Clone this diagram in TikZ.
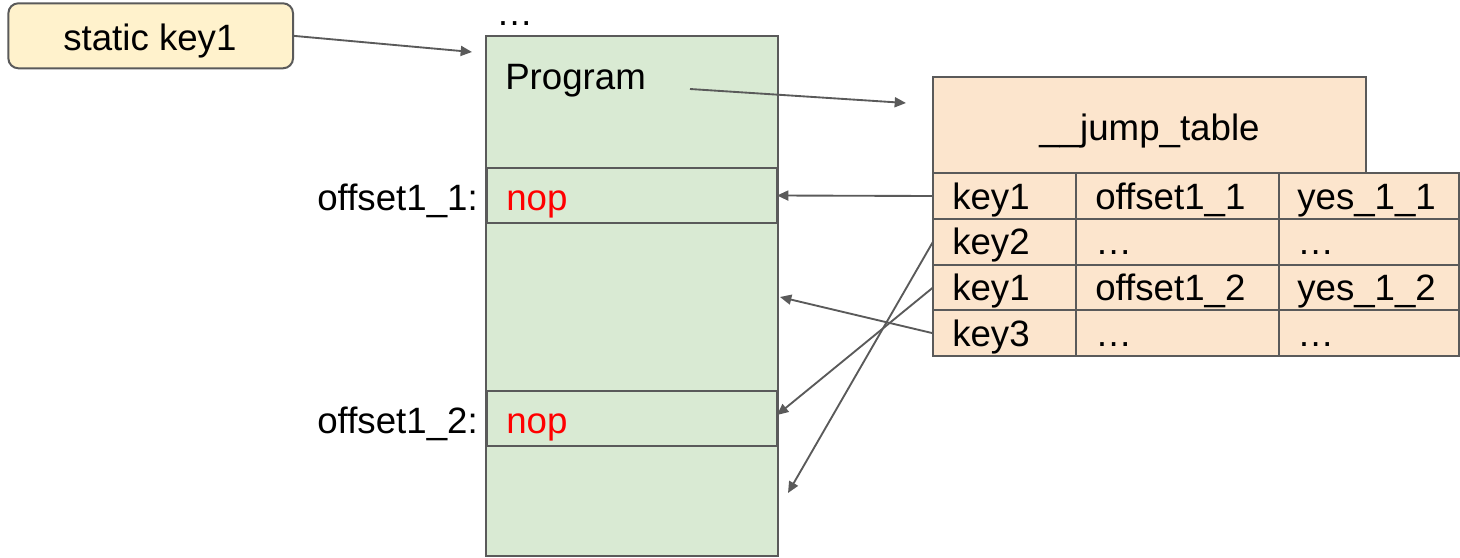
\documentclass[tikz,border=0pt]{standalone}
\usepackage{fontspec}
\setmainfont{Liberation Sans}
\usetikzlibrary{arrows.meta}
\definecolor{progfill}{HTML}{D9EAD3}
\definecolor{tablefill}{HTML}{FCE5CD}
\definecolor{keyfill}{HTML}{FFF2CC}
\definecolor{edge}{HTML}{5A5A5A}
\definecolor{nopred}{HTML}{FF0000}

\begin{document}
\begin{tikzpicture}[x=0.75pt,y=-0.75pt,
  box/.style={draw=edge,line width=1.5pt,inner sep=0pt,outer sep=0pt},
  cell/.style={box,fill=tablefill,minimum height=34.3125pt},
  txt/.style={font=\fontsize{27.5}{32}\selectfont,inner sep=0pt,anchor=base west},
  conn/.style={draw=edge,line width=1.4pt,-{Triangle[length=8.5pt,width=7.5pt]}},
]
\useasboundingbox (0,0) rectangle (1460,557);

% static key
\node[box,fill=keyfill,rounded corners=7.5pt,minimum width=213.5pt,minimum height=48.75pt] (sk) at (150.7,35.8) {};
\node[txt] (sk-text) at (63,50) {static key1};

% program image with its two patched sites
\node[box,fill=progfill,minimum width=219pt,minimum height=390pt] (prog) at (632,296) {};
\node[txt] (dots) at (496,25) {…};
\node[txt] (prog-text) at (505,89) {Program};
\node[box,fill=progfill,minimum width=217.5pt,minimum height=41.25pt] (nop1) at (632,195.5) {};
\node[box,fill=progfill,minimum width=217.5pt,minimum height=41.25pt] (nop2) at (632,418.5) {};
\node[txt,text=nopred] (nop1-text) at (506,210) {nop};
\node[txt,text=nopred] (nop2-text) at (506,433) {nop};
\node[txt,anchor=base east] (off1) at (478,210) {offset1\_1:};
\node[txt,anchor=base east] (off2) at (478,433) {offset1\_2:};

% __jump_table section
\node[box,fill=tablefill,minimum width=324.75pt,minimum height=72pt] (title) at (1149.5,125) {};
\node[txt,anchor=base] (title-text) at (1149.5,140) {\_\_jump\_table};

\foreach \r/\y in {1/196,2/241.75,3/287.5,4/333.25} {
  \node[cell,minimum width=107.25pt] (c\r a) at (1004.5,\y) {};
  \node[cell,minimum width=152.25pt] (c\r b) at (1177.5,\y) {};
  \node[cell,minimum width=135pt] (c\r c) at (1369,\y) {};
}
\node[txt] (t1a) at (952,209) {key1};
\node[txt] (t1b) at (1095,209) {offset1\_1};
\node[txt] (t1c) at (1297,209) {yes\_1\_1};
\node[txt] (t2a) at (952,254) {key2};
\node[txt] (t2b) at (1095,254) {…};
\node[txt] (t2c) at (1297,254) {…};
\node[txt] (t3a) at (952,300.5) {key1};
\node[txt] (t3b) at (1095,300.5) {offset1\_2};
\node[txt] (t3c) at (1297,300.5) {yes\_1\_2};
\node[txt] (t4a) at (952,346) {key3};
\node[txt] (t4b) at (1095,346) {…};
\node[txt] (t4c) at (1297,346) {…};

% free ends of the connectors
\coordinate (prog-in) at (472,52);
\coordinate (prog-out) at (690,89);
\coordinate (table-in) at (906,103);
\coordinate (mid-hit) at (780,297);
\coordinate (low-hit) at (788,493);

% connectors
\draw[conn] (sk.east) -- (prog-in);
\draw[conn] (prog-out) -- (table-in);
\draw[conn] (c1a.west) -- (nop1.east);
\draw[conn] (c2a.west) -- (low-hit);
\draw[conn] (c3a.west) -- ([yshift=2.6pt]nop2.east);
\draw[conn] (c4a.west) -- (mid-hit);
\end{tikzpicture}
\end{document}
